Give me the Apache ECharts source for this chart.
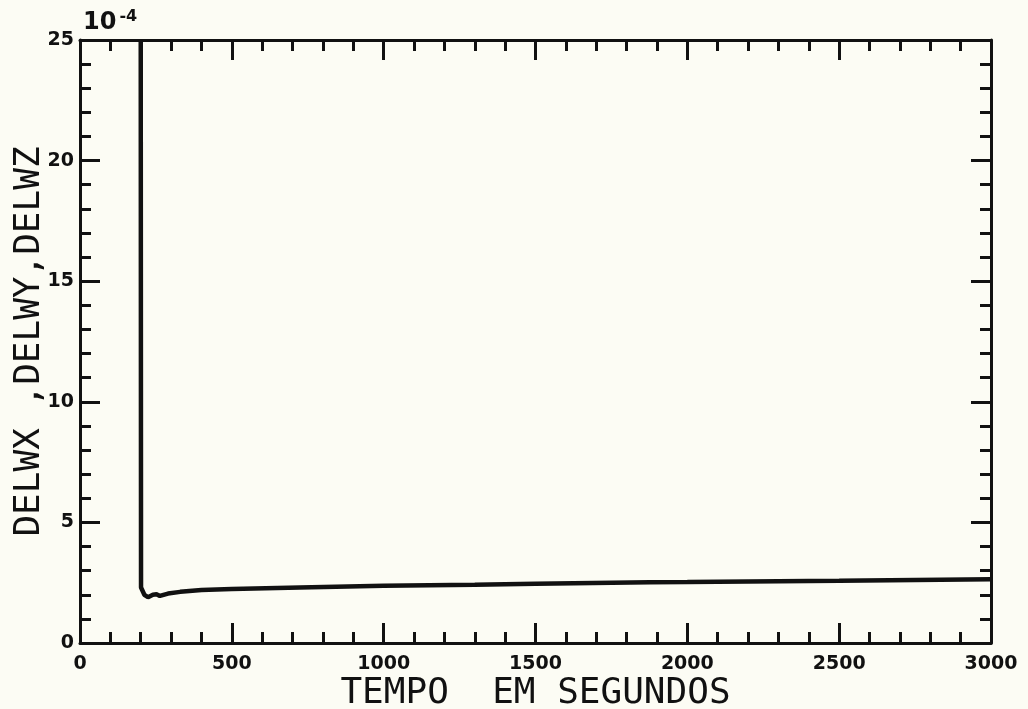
<!DOCTYPE html>
<html>
<head>
<meta charset="utf-8">
<script src="https://cdn.jsdelivr.net/npm/echarts@6/dist/echarts.min.js"></script>
<style>
  html, body { margin: 0; padding: 0; background: #fcfcf4; }
  #chart { width: 1028px; height: 709px; }
</style>
</head>
<body>
<div id="chart"></div>
<script>
// tempo (s) e valor (x 10^-4)
var tempo = [200, 201, 212, 224, 240, 252, 263, 290, 330, 400, 500, 724, 1000, 1300, 1500, 1877, 2000, 2500, 3000]
var delw = [25, 2.3, 2.0, 1.9, 2.0, 2.02, 1.95, 2.05, 2.12, 2.2, 2.24, 2.3, 2.37, 2.42, 2.46, 2.52, 2.53, 2.58, 2.64]
var xTicks = [0, 500, 1000, 1500, 2000, 2500, 3000]
var yTicks = [0, 5, 10, 15, 20, 25]

var chart = echarts.init(document.getElementById('chart'))

var ink = '#111'
var labelFont = {
  color: ink,
  fontFamily: 'DejaVu Sans',
  fontWeight: 'bold',
  fontSize: 19
}
var titleFont = {
  color: ink,
  fontFamily: 'DejaVu Sans Mono',
  fontSize: 36
}

function axisBase(showLabel, margin) {
  return {
    type: 'value',
    axisLine: { show: true, onZero: false, lineStyle: { color: ink, width: 3 } },
    axisTick: { show: true, inside: true, length: 20, lineStyle: { color: ink, width: 3 } },
    minorTick: { show: true, splitNumber: 5, length: 11, lineStyle: { color: ink, width: 3 } },
    splitLine: { show: false },
    minorSplitLine: { show: false },
    axisLabel: Object.assign({
      show: showLabel,
      margin: margin,
      formatter: function (v) { return String(v) }
    }, labelFont)
  }
}

var xBottom = Object.assign(axisBase(true, 12), {
  position: 'bottom',
  min: xTicks[0],
  max: xTicks[xTicks.length - 1],
  interval: 500,
  name: 'TEMPO  EM SEGUNDOS',
  nameLocation: 'middle',
  nameMoveOverlap: false,
  nameGap: 33,
  nameTextStyle: titleFont
})
var xTop = Object.assign(axisBase(false, 8), {
  position: 'top',
  min: xTicks[0],
  max: xTicks[xTicks.length - 1],
  interval: 500
})
var yLeft = Object.assign(axisBase(true, 6), {
  position: 'left',
  min: yTicks[0],
  max: yTicks[yTicks.length - 1],
  interval: 5,
  name: 'DELWX ,DELWY,DELWZ',
  nameLocation: 'middle',
  nameMoveOverlap: false,
  nameGap: 32,
  nameTextStyle: titleFont
})
var yRight = Object.assign(axisBase(false, 8), {
  position: 'right',
  min: yTicks[0],
  max: yTicks[yTicks.length - 1],
  interval: 5
})

var option = {
  backgroundColor: '#fcfcf4',
  animation: false,
  title: {
    left: 78,
    top: 4,
    text: '{a|10}{b|-4}',
    textStyle: {
      rich: {
        a: { fontFamily: 'DejaVu Sans', fontWeight: 'bold', fontSize: 24, color: ink, verticalAlign: 'bottom' },
        b: { fontFamily: 'DejaVu Sans', fontWeight: 'bold', fontSize: 16, color: ink, verticalAlign: 'top', padding: [0, 0, 10, 3] }
      }
    }
  },
  grid: {
    left: 80,
    right: 37,
    top: 40,
    bottom: 66,
    outerBoundsMode: 'none',
    containLabel: false
  },
  xAxis: [xBottom, xTop],
  yAxis: [yLeft, yRight],
  series: [
    {
      type: 'line',
      xAxisIndex: 0,
      yAxisIndex: 0,
      showSymbol: false,
      clip: true,
      lineStyle: { color: ink, width: 4.5 },
      data: tempo.map(function (t, i) { return [t, delw[i]] })
    }
  ]
}

chart.setOption(option)
</script>
</body>
</html>
